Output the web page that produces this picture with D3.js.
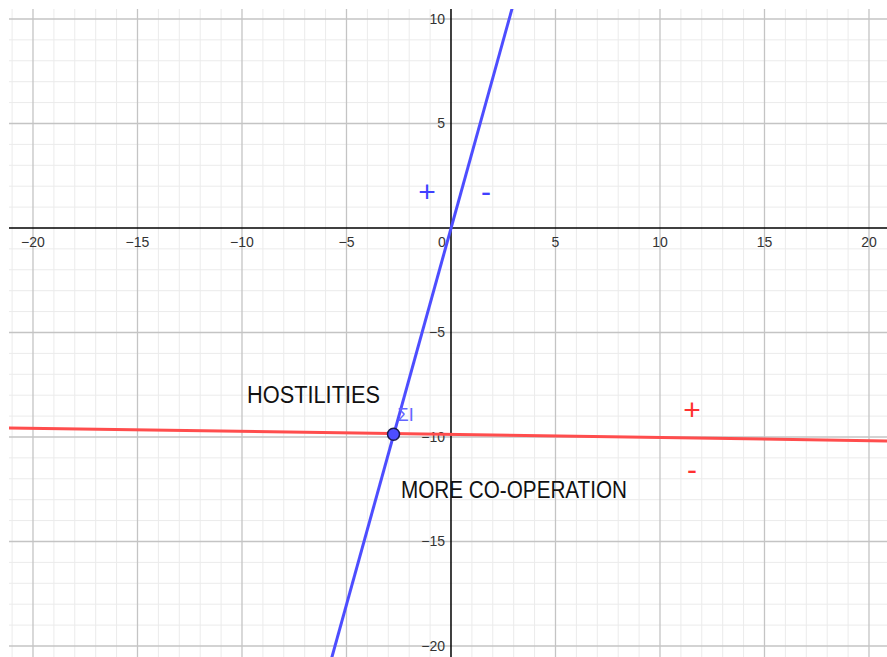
<!DOCTYPE html>
<html>
<head>
<meta charset="utf-8">
<script src="https://cdn.jsdelivr.net/npm/d3@7"></script>
<style>
  body { margin: 0; background: #fff; }
  svg { display: block; font-family: "Liberation Sans", Arial, sans-serif; }
  .minor line { stroke: #ebebeb; stroke-width: 1; }
  .major line { stroke: #c4c4c4; stroke-width: 1.3; }
  .tick-label { font-size: 14px; fill: #333; }
  .note { font-size: 23px; fill: #111; }
</style>
</head>
<body>
<svg id="chart" width="887" height="657"></svg>
<script>
// tick values along each axis
const xTicks = [-20, -15, -10, -5, 5, 10, 15, 20];
const yTicks = [10, 5, -5, -10, -15, -20];

// the two lines, as end points
const blueLine = [[-5.8, -20.9], [2.95, 10.6]];
const redLine = [[-21.5, -9.56], [21, -10.19]];

// where they cross
const crossing = [-2.75, -9.87];
const crossingLabel = "ΣI";

// text notes on the plane
const notes = [
  {text: "HOSTILITIES", x: -9.76, y: -8.37},
  {text: "MORE CO-OPERATION", x: -2.39, y: -12.92}
];

// sign markers beside each line
const blueSigns = [
  {text: "+", x: -1.15, y: 1.72},
  {text: "-", x: 1.67, y: 1.72}
];
const redSigns = [
  {text: "+", x: 11.53, y: -8.71},
  {text: "-", x: 11.53, y: -11.58}
];

const svg = d3.select("#chart");
const width = +svg.attr("width");
const height = +svg.attr("height");
const padLeft = 9, padTop = 9;
const unit = 20.9; // pixels per unit, same both ways

const x = d3.scaleLinear()
  .domain([-21.148, -21.148 + (width - padLeft) / unit])
  .range([padLeft, width]);
const y = d3.scaleLinear()
  .domain([10.478, 10.478 - (height - padTop) / unit])
  .range([padTop, height]);

const minus = (d) => d < 0 ? "\u2212" + Math.abs(d) : d;

svg.append("defs").append("clipPath").attr("id", "plot")
  .append("rect")
  .attr("x", padLeft).attr("y", padTop)
  .attr("width", width - padLeft).attr("height", height - padTop);

// grid
const minorX = d3.range(-21, 21).filter(d => d % 5 != 0);
const minorY = d3.range(-20, 11).filter(d => d % 5 != 0);
const majorX = d3.range(-20, 21, 5).filter(d => d != 0);
const majorY = d3.range(-20, 11, 5).filter(d => d != 0);

const minor = svg.append("g").attr("class", "minor");
minor.selectAll(".vx").data(minorX).enter().append("line")
  .attr("x1", d => x(d)).attr("x2", d => x(d))
  .attr("y1", padTop).attr("y2", height);
minor.selectAll(".hy").data(minorY).enter().append("line")
  .attr("y1", d => y(d)).attr("y2", d => y(d))
  .attr("x1", padLeft).attr("x2", width);

const major = svg.append("g").attr("class", "major");
major.selectAll(".vx").data(majorX).enter().append("line")
  .attr("x1", d => x(d)).attr("x2", d => x(d))
  .attr("y1", padTop).attr("y2", height);
major.selectAll(".hy").data(majorY).enter().append("line")
  .attr("y1", d => y(d)).attr("y2", d => y(d))
  .attr("x1", padLeft).attr("x2", width);

// axes
svg.append("line")
  .attr("x1", padLeft).attr("x2", width)
  .attr("y1", y(0)).attr("y2", y(0))
  .attr("stroke", "#000").attr("stroke-width", 1.5);
svg.append("line")
  .attr("x1", x(0)).attr("x2", x(0))
  .attr("y1", padTop).attr("y2", height)
  .attr("stroke", "#000").attr("stroke-width", 1.5);

svg.append("g").selectAll("text")
  .data(xTicks).enter().append("text")
  .attr("class", "tick-label")
  .attr("x", d => x(d))
  .attr("y", y(0) + 19)
  .attr("text-anchor", "middle")
  .text(minus);

svg.append("g").selectAll("text")
  .data(yTicks).enter().append("text")
  .attr("class", "tick-label")
  .attr("x", x(0) - 6)
  .attr("y", d => y(d) + 5)
  .attr("text-anchor", "end")
  .text(minus);

svg.append("text")
  .attr("class", "tick-label")
  .attr("x", x(0) - 9).attr("y", y(0) + 19)
  .attr("text-anchor", "middle")
  .text("0");

// text notes
svg.append("g").selectAll("text")
  .data(notes).enter().append("text")
  .attr("class", "note")
  .attr("x", d => x(d.x)).attr("y", d => y(d.y))
  .attr("textLength", d => d.text.length > 12 ? 226 : 133)
  .attr("lengthAdjust", "spacingAndGlyphs")
  .text(d => d.text);

// lines
const line = d3.line().x(d => x(d[0])).y(d => y(d[1]));
const lines = svg.append("g").attr("clip-path", "url(#plot)");
lines.append("path").datum(redLine)
  .attr("d", line)
  .attr("stroke", "#ff4d4d").attr("stroke-width", 3).attr("fill", "none");
lines.append("path").datum(blueLine)
  .attr("d", line)
  .attr("stroke", "#4d4dff").attr("stroke-width", 3).attr("fill", "none");

// signs
svg.append("g").selectAll("text")
  .data(blueSigns).enter().append("text")
  .attr("x", d => x(d.x)).attr("y", d => y(d.y) + 10)
  .attr("text-anchor", "middle")
  .attr("font-size", 30)
  .attr("fill", "#4040ff")
  .text(d => d.text);
svg.append("g").selectAll("text")
  .data(redSigns).enter().append("text")
  .attr("x", d => x(d.x)).attr("y", d => y(d.y) + 10)
  .attr("text-anchor", "middle")
  .attr("font-size", 30)
  .attr("fill", "#ff3030")
  .text(d => d.text);

// crossing point
svg.append("circle")
  .attr("cx", x(crossing[0])).attr("cy", y(crossing[1]))
  .attr("r", 6)
  .attr("fill", "#4d4dff")
  .attr("stroke", "#1a1a4d").attr("stroke-width", 1.5);
svg.append("text")
  .attr("x", x(crossing[0]) + 4).attr("y", y(crossing[1]) - 13)
  .attr("font-size", 18)
  .attr("fill", "#6464ff")
  .text(crossingLabel);
</script>
</body>
</html>
